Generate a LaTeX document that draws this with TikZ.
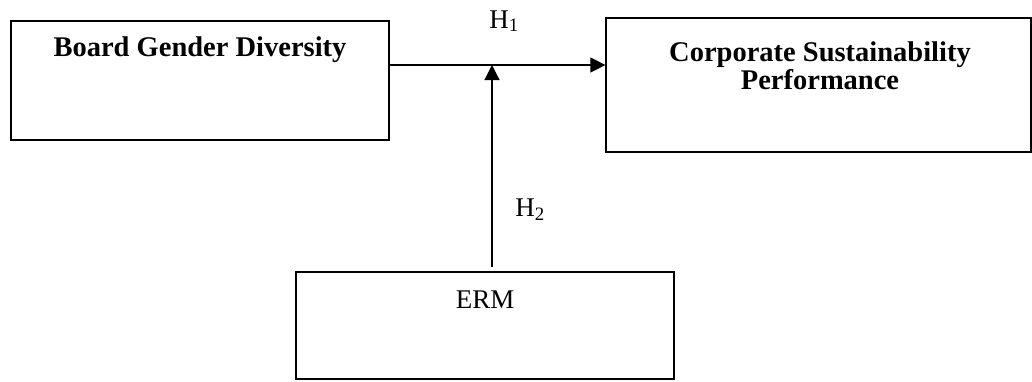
\documentclass[tikz,border=0pt]{standalone}
\usepackage{fontspec}
\setmainfont{Liberation Serif}
\usetikzlibrary{arrows.meta}
\usetikzlibrary{positioning}
\usetikzlibrary{calc}
\tikzstyle{construct}=[rectangle, draw=black, line width=1.2pt, fill=white, inner sep=0pt]
\tikzstyle{boxtitle}=[inner sep=0pt, font=\fontsize{28.5}{28.5}\selectfont\bfseries, align=center]
\tikzstyle{hyp}=[inner sep=0pt, font=\fontsize{27}{28}\selectfont]

\begin{document}
\begin{tikzpicture}[x=1pt, y=-1pt, >={Triangle[length=15pt,width=15pt]}]
	\useasboundingbox (0,0) rectangle (1032,381);
	% the three constructs
	\node (bgd) at (200,80.5) [construct, minimum width=378pt, minimum height=119pt] {};
	\node (csp) at (818.5,85) [construct, minimum width=425pt, minimum height=134pt] {};
	\node (erm) at (485,325.5) [construct, minimum width=378pt, minimum height=107pt] {};
	\node (bgdtitle) at (200,56.5) [boxtitle, anchor=base] {Board Gender Diversity};
	\node (csptitle) at (820,41.5) [boxtitle, anchor=north] {Corporate Sustainability\\Performance};
	\node (ermtitle) at (485,308) [hyp, anchor=base] {ERM};
	% moderation point
	\coordinate (jn) at (492,65);
	\path[->, line width=1.2pt]
		(bgd.east |- jn) edge (jn -| csp.west)
		(erm.north -| jn) edge[shorten <= 4pt] (jn);
	\node (h1) at (504,28) [hyp, anchor=base] {H\textsubscript{1}};
	\node (h2) at (530,216.5) [hyp, anchor=base] {H\textsubscript{2}};
\end{tikzpicture}
\end{document}
